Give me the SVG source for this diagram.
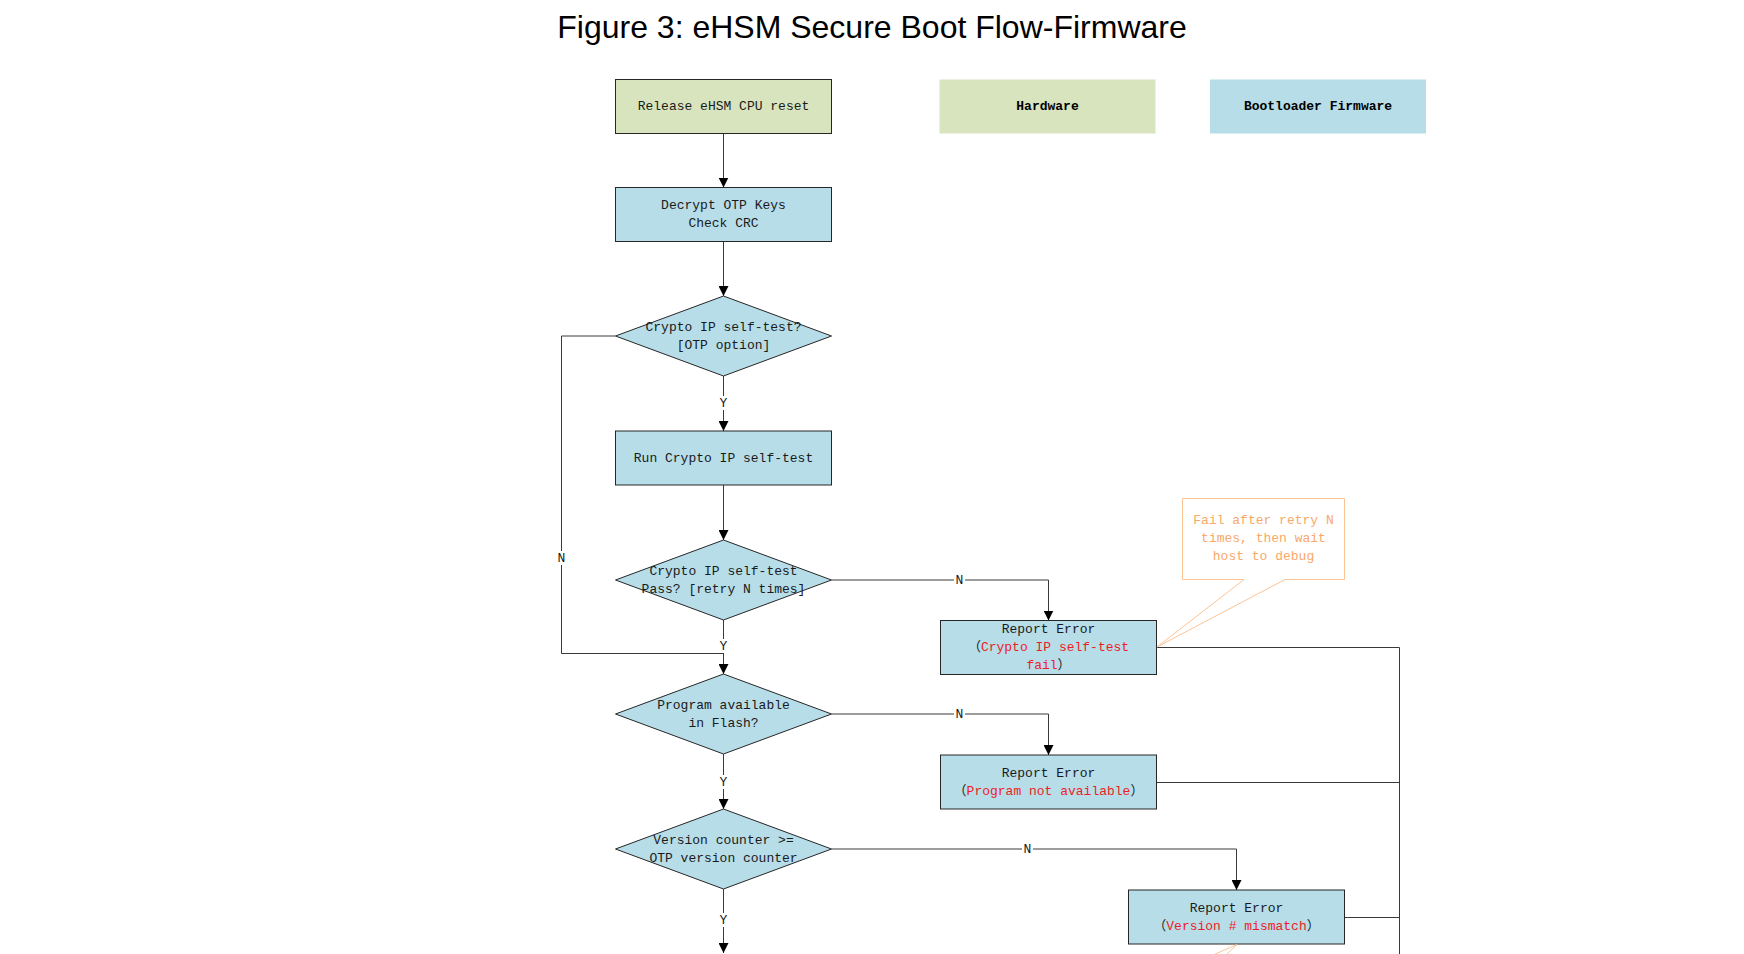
<svg xmlns="http://www.w3.org/2000/svg" width="1744" height="954" viewBox="0 0 1744 954">
<style>
.t{font-family:"Liberation Mono","Noto Sans CJK SC",monospace;font-size:13px;fill:#1a1a1a;text-anchor:middle;dominant-baseline:central}
.b{font-weight:bold;fill:#000}
.red{fill:#ee1c24}
.org{fill:#f9a86a}
.hw{fill:#d7e4bd}
.fw{fill:#b7dde8}
.ln{stroke:#262626;stroke-width:1}
.c{fill:none;stroke:#3a3a3a;stroke-width:1}
.lbl{fill:#fff}
.title{font-family:"Liberation Sans",Arial,sans-serif;font-size:32px;fill:#000;text-anchor:middle}
</style>
<defs>
<marker id="ah" markerUnits="userSpaceOnUse" markerWidth="10" markerHeight="10" refX="10" refY="5" orient="auto">
<path d="M0,0 L10,5 L0,10 z" fill="#000"/>
</marker>
</defs>
<rect width="1744" height="954" fill="#fff"/>
<text class="title" x="872" y="38">Figure 3: eHSM Secure Boot Flow-Firmware</text>

<g id="connectors">
<path class="c" d="M723.5,133.5 V187.5" marker-end="url(#ah)"/>
<path class="c" d="M723.5,241.5 V296" marker-end="url(#ah)"/>
<path class="c" d="M723.5,376 V431" marker-end="url(#ah)"/>
<path class="c" d="M723.5,485 V540" marker-end="url(#ah)"/>
<path class="c" d="M615.5,336 H561.5 V653.5 H723.5"/>
<path class="c" d="M723.5,620 V674" marker-end="url(#ah)"/>
<path class="c" d="M831.5,580 H1048.5 V620.5" marker-end="url(#ah)"/>
<path class="c" d="M723.5,754 V809" marker-end="url(#ah)"/>
<path class="c" d="M831.5,714 H1048.5 V755" marker-end="url(#ah)"/>
<path class="c" d="M831.5,849 H1236.5 V890" marker-end="url(#ah)"/>
<path class="c" d="M723.5,889 V953" marker-end="url(#ah)"/>
<path class="c" d="M1156.5,647.5 H1399.5 V954"/>
<path class="c" d="M1156.5,782.5 H1399.5"/>
<path class="c" d="M1344.5,917.5 H1399.5"/>
<rect class="lbl" x="718" y="396" width="11" height="14"/>
<text class="t" x="723.5" y="403">Y</text>
<rect class="lbl" x="556" y="551" width="11" height="14"/>
<text class="t" x="561.5" y="558">N</text>
<rect class="lbl" x="718" y="639" width="11" height="14"/>
<text class="t" x="723.5" y="646">Y</text>
<rect class="lbl" x="718" y="775" width="11" height="14"/>
<text class="t" x="723.5" y="782">Y</text>
<rect class="lbl" x="718" y="913" width="11" height="14"/>
<text class="t" x="723.5" y="920">Y</text>
<rect class="lbl" x="954" y="574" width="11" height="13"/>
<text class="t" x="959.5" y="580">N</text>
<rect class="lbl" x="954" y="708" width="11" height="13"/>
<text class="t" x="959.5" y="714">N</text>
<rect class="lbl" x="1022" y="843" width="11" height="13"/>
<text class="t" x="1027.5" y="849">N</text>
</g>

<g id="release">
<rect class="hw ln" x="615.5" y="79.5" width="216" height="54"/>
<text class="t" x="723.5" y="106.5" fill="#333">Release eHSM CPU reset</text>
</g>
<g id="legend-hardware">
<rect class="hw" x="939.5" y="79.5" width="216" height="54"/>
<text class="t b" x="1047.5" y="106.5">Hardware</text>
</g>
<g id="legend-firmware">
<rect class="fw" x="1210" y="79.5" width="216" height="54"/>
<text class="t b" x="1318" y="106.5">Bootloader Firmware</text>
</g>
<g id="decrypt">
<rect class="fw ln" x="615.5" y="187.5" width="216" height="54"/>
<text class="t" x="723.5" y="205.5">Decrypt OTP Keys</text>
<text class="t" x="723.5" y="223.5">Check CRC</text>
</g>
<g id="selftest-option">
<polygon class="fw ln" points="723.5,296 831.5,336 723.5,376 615.5,336"/>
<text class="t" x="723.5" y="327">Crypto IP self-test?</text>
<text class="t" x="723.5" y="345">[OTP option]</text>
</g>
<g id="run-selftest">
<rect class="fw ln" x="615.5" y="431" width="216" height="54"/>
<text class="t" x="723.5" y="458">Run Crypto IP self-test</text>
</g>
<g id="selftest-pass">
<polygon class="fw ln" points="723.5,540 831.5,580 723.5,620 615.5,580"/>
<text class="t" x="723.5" y="571">Crypto IP self-test</text>
<text class="t" x="723.5" y="589">Pass? [retry N times]</text>
</g>
<g id="program-available">
<polygon class="fw ln" points="723.5,674 831.5,714 723.5,754 615.5,714"/>
<text class="t" x="723.5" y="705">Program available</text>
<text class="t" x="723.5" y="723">in Flash?</text>
</g>
<g id="version-check">
<polygon class="fw ln" points="723.5,809 831.5,849 723.5,889 615.5,849"/>
<text class="t" x="723.5" y="840">Version counter &gt;=</text>
<text class="t" x="723.5" y="858">OTP version counter</text>
</g>
<g id="error-selftest">
<rect class="fw ln" x="940.5" y="620.5" width="216" height="54"/>
<text class="t" x="1048.5" y="629">Report Error</text>
<text class="t" x="1048.5" y="647">（<tspan class="red">Crypto IP self-test</tspan></text>
<text class="t" x="1048.5" y="665"><tspan class="red">fail</tspan>）</text>
</g>
<g id="error-program">
<rect class="fw ln" x="940.5" y="755" width="216" height="54"/>
<text class="t" x="1048.5" y="773">Report Error</text>
<text class="t" x="1048.5" y="791">（<tspan class="red">Program not available</tspan>）</text>
</g>
<g id="error-version">
<rect class="fw ln" x="1128.5" y="890" width="216" height="54"/>
<text class="t" x="1236.5" y="908">Report Error</text>
<text class="t" x="1236.5" y="926">（<tspan class="red">Version # mismatch</tspan>）</text>
</g>
<g id="note-retry">
<polygon points="1182.5,498.5 1344.5,498.5 1344.5,579.5 1285,579.5 1157,647 1244,579.5 1182.5,579.5" fill="#fff" stroke="#fbc497" stroke-width="1"/>
<text class="t org" x="1263.5" y="520">Fail after retry N</text>
<text class="t org" x="1263.5" y="538">times, then wait</text>
<text class="t org" x="1263.5" y="556">host to debug</text>
</g>
<g id="note-bottom">
<polyline points="1213,955 1237,944.5 1226,955" fill="none" stroke="#fbc497" stroke-width="1"/>
</g>
</svg>
